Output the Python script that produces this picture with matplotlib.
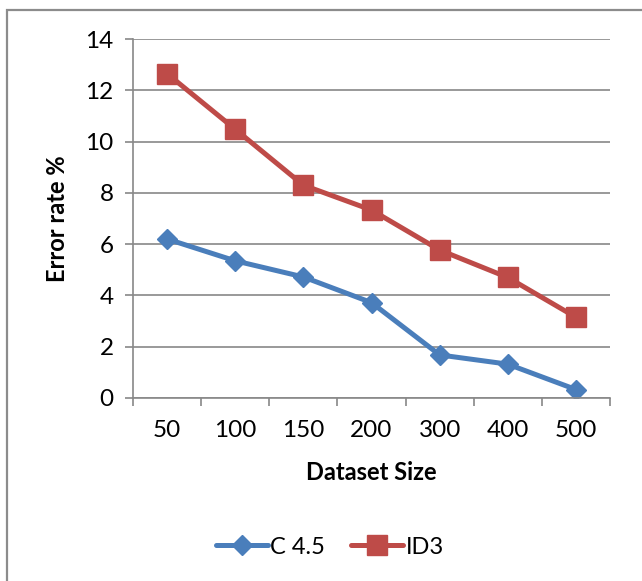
import matplotlib
matplotlib.use('Agg')
import matplotlib.pyplot as plt
from matplotlib.patches import Rectangle

# -- Data --
SIZES = ['50', '100', '150', '200', '300', '400', '500']
C45 = [6.2, 5.35, 4.72, 3.72, 1.68, 1.32, 0.33]
ID3 = [12.65, 10.48, 8.3, 7.33, 5.77, 4.7, 3.15]
Y_TICKS = [0, 2, 4, 6, 8, 10, 12, 14]

BLUE = '#4A7EBB'
RED = '#BE4B48'
GRID = '#888888'

plt.rcParams['font.family'] = ['Lato', 'DejaVu Sans']

fig = plt.figure(figsize=(6.42, 5.81), dpi=100)
ax = fig.add_axes([133 / 642, 1 - 398 / 581, (610 - 133) / 642, (398 - 39) / 581])

# chart border (cut off on right and bottom like the reference)
fig.patches.append(Rectangle((7 / 642, -0.05), 1.2, 1 - 10 / 581 + 0.05,
                             transform=fig.transFigure, fill=False,
                             edgecolor='#8c8c8c', lw=1.6, clip_on=False))

x = list(range(len(SIZES)))
ax.plot(x, C45, color=BLUE, lw=3.6, marker='D', ms=10, mec=BLUE, mfc=BLUE,
        label='C 4.5', solid_capstyle='round')
ax.plot(x, ID3, color=RED, lw=3.6, marker='s', ms=14, mec=RED, mfc=RED,
        label='ID3', solid_capstyle='round')

ax.set_xlim(-0.5, len(SIZES) - 0.5)
ax.set_ylim(0, 14)
ax.set_yticks(Y_TICKS)
ax.set_yticklabels([str(v) for v in Y_TICKS], fontsize=17.5)
ax.yaxis.grid(True, color=GRID, lw=1.2)
ax.set_axisbelow(True)

# category ticks between labels (Excel style)
ax.set_xticks([i - 0.5 for i in range(len(SIZES) + 1)])
ax.set_xticklabels([])
ax.set_xticks(x, minor=True)
ax.set_xticklabels(SIZES, minor=True, fontsize=17.5)
ax.tick_params(axis='x', which='minor', length=0, pad=16)
ax.tick_params(axis='x', which='major', length=6, width=1.2, color=GRID)
ax.tick_params(axis='y', length=6, width=1.2, color=GRID, pad=8)

for s in ['top', 'right']:
    ax.spines[s].set_visible(False)
for s in ['left', 'bottom']:
    ax.spines[s].set_color(GRID)
    ax.spines[s].set_linewidth(1.2)

ax.set_xlabel('Dataset Size', fontsize=17, fontweight='bold', labelpad=14)
ax.set_ylabel('Error rate %', fontsize=17, fontweight='bold', labelpad=12)

fig.legend(loc='center', bbox_to_anchor=(330 / 642, 1 - 547 / 581), ncol=2,
           frameon=False, fontsize=17, handlelength=2.2, handletextpad=0.1,
           columnspacing=1.1)

fig.savefig('out.png', dpi=100)
